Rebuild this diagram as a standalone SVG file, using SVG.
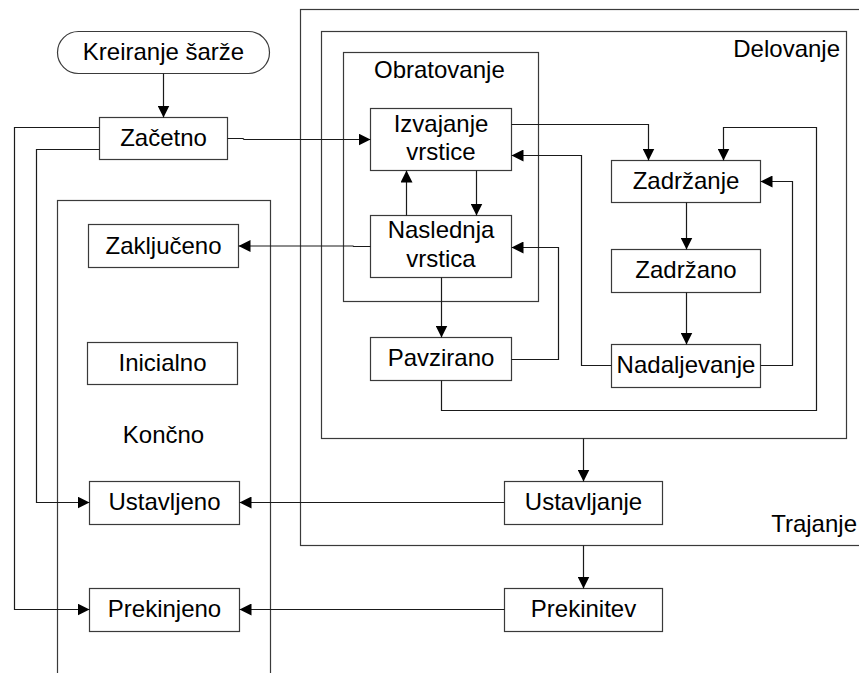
<svg xmlns="http://www.w3.org/2000/svg" width="859" height="673" viewBox="0 0 859 673">
<style>
.box{fill:#fff;stroke:#3a3a3a;stroke-width:1.2}
.cont{fill:none;stroke:#3a3a3a;stroke-width:1.2}
.t{font-family:"Liberation Sans",Arial,sans-serif;font-size:24px;fill:#000;text-anchor:middle}
.ts{font-family:"Liberation Sans",Arial,sans-serif;font-size:24px;fill:#000}
.c{fill:none;stroke:#1a1a1a;stroke-width:1.2;marker-end:url(#ah)}
</style>
<defs>
<marker id="ah" markerUnits="userSpaceOnUse" markerWidth="12" markerHeight="12" refX="12" refY="6" orient="auto">
<path d="M0,0 L12,6 L0,12 z" fill="#000"/>
</marker>
</defs>
<rect width="859" height="673" fill="#fff"/>
<g id="trajanje">
<rect class="cont" x="300.5" y="9.5" width="570" height="536"/>
<text class="ts" x="857" y="532" text-anchor="end">Trajanje</text>
</g>
<g id="delovanje">
<rect class="cont" x="321.5" y="31.5" width="525" height="407"/>
<text class="ts" x="840" y="57" text-anchor="end">Delovanje</text>
</g>
<g id="obratovanje">
<rect class="cont" x="343.5" y="52.5" width="195" height="249"/>
<text class="ts" x="374" y="78">Obratovanje</text>
</g>
<g id="koncno">
<rect class="cont" x="57.5" y="200.5" width="213" height="490"/>
<text class="t" x="163.5" y="443">Končno</text>
</g>
<g id="kreiranje">
<rect class="box" x="57.5" y="31.5" width="212" height="42" rx="21" ry="21"/>
<text class="t" x="163.5" y="60">Kreiranje šarže</text>
</g>
<g id="zacetno">
<rect class="box" x="99.5" y="117.5" width="128" height="42"/>
<text class="t" x="163.5" y="146">Začetno</text>
</g>
<g id="izvajanje">
<rect class="box" x="370.5" y="108.5" width="141" height="62"/>
<text class="t" x="441" y="132">Izvajanje</text>
<text class="t" x="441" y="160">vrstice</text>
</g>
<g id="naslednja">
<rect class="box" x="370.5" y="215.5" width="141" height="62"/>
<text class="t" x="441" y="238">Naslednja</text>
<text class="t" x="441" y="267">vrstica</text>
</g>
<g id="pavzirano">
<rect class="box" x="370.5" y="337.5" width="141" height="43"/>
<text class="t" x="441" y="366">Pavzirano</text>
</g>
<g id="zadrzanje">
<rect class="box" x="611.5" y="160.5" width="149" height="42"/>
<text class="t" x="686" y="189">Zadržanje</text>
</g>
<g id="zadrzano">
<rect class="box" x="611.5" y="249.5" width="149" height="43"/>
<text class="t" x="686" y="278">Zadržano</text>
</g>
<g id="nadaljevanje">
<rect class="box" x="611.5" y="344.5" width="149" height="43"/>
<text class="t" x="686" y="373">Nadaljevanje</text>
</g>
<g id="zakljuceno">
<rect class="box" x="88.5" y="224.5" width="150" height="43"/>
<text class="t" x="163.5" y="254">Zaključeno</text>
</g>
<g id="inicialno">
<rect class="box" x="87.5" y="342.5" width="150" height="42"/>
<text class="t" x="162.5" y="371">Inicialno</text>
</g>
<g id="ustavljeno">
<rect class="box" x="89.5" y="481.5" width="150" height="43"/>
<text class="t" x="164.5" y="510">Ustavljeno</text>
</g>
<g id="prekinjeno">
<rect class="box" x="89.5" y="588.5" width="150" height="43"/>
<text class="t" x="164.5" y="617">Prekinjeno</text>
</g>
<g id="ustavljanje">
<rect class="box" x="504.5" y="481.5" width="158" height="43"/>
<text class="t" x="583.5" y="510">Ustavljanje</text>
</g>
<g id="prekinitev">
<rect class="box" x="504.5" y="588.5" width="158" height="43"/>
<text class="t" x="583.5" y="617">Prekinitev</text>
</g>
<g id="connectors">
<path class="c" d="M163.5,73.5 V117.5"/>
<path class="c" d="M227.5,138.5 H243 L244,139.5 H370.5"/>
<path class="c" d="M99.5,127.5 H14.5 V609.5 H89.5"/>
<path class="c" d="M99.5,149.5 H36.5 V502.5 H89.5"/>
<path class="c" d="M370.5,246.5 H353.5 L353,246 H238.5"/>
<path class="c" d="M406.5,215.5 V170.5"/>
<path class="c" d="M476.5,170.5 V215.5"/>
<path class="c" d="M441.5,277.5 V337.5"/>
<path class="c" d="M511.5,359.5 H558.5 V247.5 H511.5"/>
<path class="c" d="M441.5,380.5 V410.5 H816.5 V127.5 H723.5 V160.5"/>
<path class="c" d="M511.5,124.5 H648.5 V160.5"/>
<path class="c" d="M686.5,202.5 V249.5"/>
<path class="c" d="M686.5,292.5 V344.5"/>
<path class="c" d="M611.5,365.5 H581.5 V155.5 H511.5"/>
<path class="c" d="M760.5,365.5 H792.5 V181.5 H760.5"/>
<path class="c" d="M583.5,438.5 V481.5"/>
<path class="c" d="M504.5,502.5 H239.5"/>
<path class="c" d="M583.5,545.5 V588.5"/>
<path class="c" d="M504.5,609.5 H239.5"/>
</g>
</svg>
